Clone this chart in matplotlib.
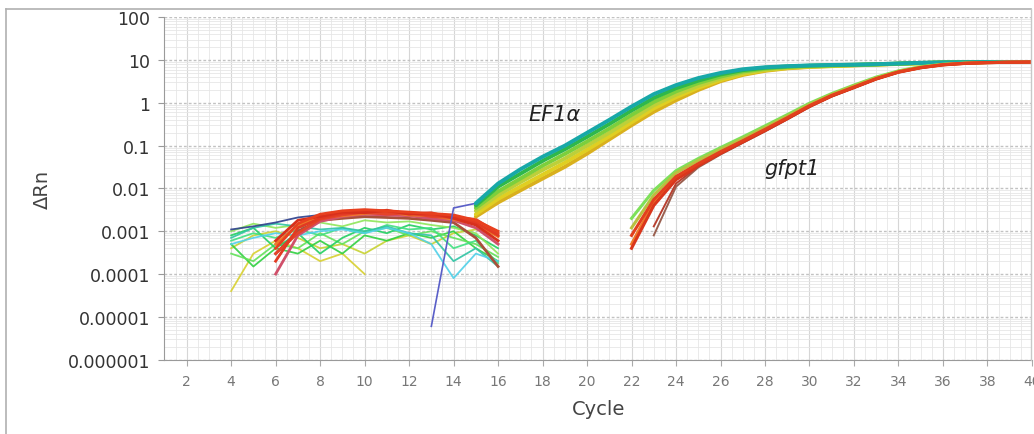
import numpy as np
import matplotlib
matplotlib.use("Agg")
import matplotlib.pyplot as plt
from matplotlib.ticker import FixedLocator, NullFormatter
from matplotlib.lines import Line2D

nan = np.nan

# cycle axes for each group of traces
cycles_base = list(range(4, 17))    # 4..16
cycles_red = list(range(6, 17))     # 6..16
cycles_ef1a = list(range(15, 41))   # 15..40
cycles_gfpt1 = list(range(22, 41))  # 22..40
cycles_gfpt1_late = list(range(23, 41))
cycles_spike = [13, 14, 15]

y_ticks = [1e-6, 1e-5, 1e-4, 1e-3, 1e-2, 1e-1, 1, 10, 100]
y_tick_labels = ["0.000001", "0.00001", "0.0001", "0.001", "0.01", "0.1", "1", "10", "100"]
x_ticks = list(range(2, 41, 2))

# noisy baseline traces, cycles 4..16
base_green1 = [0.0005, 0.00015, 0.0004, 0.0003, 0.0006, 0.0003, 0.0008, 0.0006, 0.0009, 0.0007, 0.0010, 0.0004, 0.0002]
base_green2 = [0.0003, 0.0002, 0.0005, 0.0004, 0.0009, 0.0005, 0.0010, 0.0012, 0.0008, 0.0010, 0.0007, 0.0005, 0.00025]
base_green3 = [0.0008, 0.0012, 0.0004, 0.0009, 0.0003, 0.0007, 0.0012, 0.0009, 0.0014, 0.0011, 0.0013, 0.0008, 0.0004]
base_lime = [0.0010, 0.0015, 0.0012, 0.0014, 0.0016, 0.0013, 0.0018, 0.0016, 0.0017, 0.0014, 0.0012, 0.0009, 0.0003]
base_spring = [0.0006, 0.0009, 0.0007, 0.0011, 0.0008, 0.0012, 0.0009, 0.0014, 0.0011, 0.0012, 0.0004, 0.0006, 0.00018]
base_yellow1 = [0.00004, 0.0003, 0.0006, 0.0004, 0.0002, 0.0003, 0.0001, nan, nan, nan, nan, nan, nan]
base_yellow2 = [0.0004, 0.0008, 0.0010, 0.0007, 0.0004, 0.0005, 0.0003, 0.0006, 0.0008, 0.0005, 0.0009, 0.0011, 0.0008]
base_teal = [0.0007, 0.0012, 0.0015, 0.0013, 0.0011, 0.0012, 0.0010, 0.0013, 0.0009, 0.0008, 0.0002, 0.0004, 0.00015]
base_cyan = [0.0005, 0.0007, 0.0009, 0.0008, 0.0010, 0.0011, 0.0009, 0.0012, 0.0009, 0.0005, 0.00008, 0.0003, 0.0002]
base_navy = [0.0011, 0.0013, 0.0016, 0.0021, 0.0024, nan, nan, nan, nan, nan, nan, nan, nan]

# red baseline traces, cycles 6..16
base_red1 = [0.0004, 0.0015, 0.0025, 0.0030, 0.0032, 0.0030, 0.0028, 0.0026, 0.0024, 0.0018, 0.0010]
base_red2 = [0.0002, 0.0012, 0.0020, 0.0026, 0.0030, 0.0029, 0.0026, 0.0024, 0.0022, 0.0016, 0.0008]
base_red3 = [0.0006, 0.0018, 0.0022, 0.0028, 0.0027, 0.0031, 0.0025, 0.0027, 0.0020, 0.0014, 0.0006]
base_red4 = [0.0003, 0.0009, 0.0019, 0.0024, 0.0028, 0.0025, 0.0027, 0.0022, 0.0021, 0.0019, 0.0009]
base_orange = [0.0005, 0.0014, 0.0021, 0.0023, 0.0026, 0.0028, 0.0024, 0.0023, 0.0019, 0.0015, 0.00075]
base_pink = [0.0001, 0.0008, 0.0017, 0.0022, 0.0025, 0.0024, 0.0023, 0.0020, 0.0018, 0.0012, 0.0005]
base_brown = [0.0003, 0.0010, 0.0018, 0.0020, 0.0022, 0.0021, 0.0020, 0.0018, 0.0016, 0.0007, 0.00015]

spike_purple = [0.000006, 0.0035, 0.0045]

# EF1a amplification, cycles 15..40
ef1a_teal = [0.0045, 0.013, 0.028, 0.055, 0.10, 0.20, 0.40, 0.82, 1.60, 2.60, 3.80, 5.00, 6.10, 6.80, 7.20, 7.50, 7.70, 7.80, 8.00, 8.30, 8.60, 8.80, 8.90, 9.00, 9.00, 9.00]
ef1a_green = [0.0040, 0.011, 0.022, 0.044, 0.082, 0.16, 0.32, 0.66, 1.30, 2.20, 3.30, 4.60, 5.80, 6.60, 7.10, 7.40, 7.60, 7.80, 8.00, 8.30, 8.60, 8.80, 8.90, 9.00, 9.00, 9.00]
ef1a_lime = [0.0035, 0.0085, 0.017, 0.034, 0.064, 0.125, 0.25, 0.52, 1.05, 1.85, 2.90, 4.10, 5.40, 6.30, 6.90, 7.30, 7.50, 7.70, 7.90, 8.20, 8.50, 8.80, 8.90, 9.00, 9.00, 9.00]
ef1a_olive = [0.0030, 0.0070, 0.014, 0.027, 0.050, 0.10, 0.20, 0.42, 0.88, 1.55, 2.50, 3.70, 5.00, 6.00, 6.70, 7.10, 7.40, 7.60, 7.90, 8.20, 8.50, 8.70, 8.90, 9.00, 9.00, 9.00]
ef1a_yellow = [0.0025, 0.0057, 0.011, 0.021, 0.040, 0.080, 0.165, 0.35, 0.74, 1.35, 2.25, 3.40, 4.70, 5.80, 6.50, 7.00, 7.30, 7.60, 7.90, 8.20, 8.50, 8.70, 8.90, 9.00, 9.00, 9.00]
ef1a_gold = [0.0022, 0.0047, 0.009, 0.017, 0.032, 0.065, 0.14, 0.30, 0.62, 1.15, 2.00, 3.20, 4.50, 5.60, 6.40, 6.90, 7.20, 7.50, 7.80, 8.10, 8.40, 8.70, 8.90, 9.00, 9.00, 9.00]

# gfpt1 amplification, cycles 22..40 (late ones 23..40)
gfpt1_green = [0.002, 0.009, 0.026, 0.05, 0.09, 0.16, 0.29, 0.53, 0.98, 1.65, 2.6, 4.0, 5.6, 7.0, 8.0, 8.5, 8.8, 8.9, 9.0]
gfpt1_olive = [0.0012, 0.007, 0.023, 0.045, 0.082, 0.145, 0.265, 0.49, 0.92, 1.58, 2.5, 3.85, 5.45, 6.85, 7.9, 8.45, 8.75, 8.9, 9.0]
gfpt1_orange = [0.0005, 0.0048, 0.018, 0.037, 0.07, 0.127, 0.235, 0.44, 0.84, 1.47, 2.3, 3.65, 5.25, 6.65, 7.75, 8.4, 8.7, 8.9, 9.0]
gfpt1_red1 = [0.0008, 0.0055, 0.019, 0.038, 0.072, 0.13, 0.24, 0.45, 0.86, 1.5, 2.35, 3.7, 5.3, 6.7, 7.8, 8.4, 8.7, 8.9, 9.0]
gfpt1_red2 = [0.0004, 0.004, 0.016, 0.034, 0.066, 0.122, 0.225, 0.425, 0.82, 1.44, 2.27, 3.6, 5.2, 6.6, 7.7, 8.35, 8.7, 8.9, 9.0]
gfpt1_brown = [0.0008, 0.011, 0.031, 0.062, 0.116, 0.215, 0.41, 0.8, 1.41, 2.23, 3.55, 5.15, 6.55, 7.65, 8.3, 8.65, 8.85, 9.0]
gfpt1_darkred = [0.0013, 0.013, 0.033, 0.064, 0.118, 0.22, 0.415, 0.81, 1.42, 2.25, 3.58, 5.18, 6.58, 7.7, 8.33, 8.68, 8.88, 9.0]

fig = plt.figure(figsize=(10.34, 4.35), dpi=100)
ax = fig.add_axes([0.159, 0.171, 0.839, 0.787])

# background grid
ax.set_yscale("log")
ax.set_xlim(1, 40)
ax.set_ylim(1e-6, 100)
ax.xaxis.set_minor_locator(FixedLocator(np.arange(1, 40.01, 0.5)))
ax.yaxis.set_minor_locator(FixedLocator([m * 10.0 ** e for e in range(-6, 2) for m in range(2, 10)]))
ax.yaxis.set_minor_formatter(NullFormatter())
ax.grid(which="minor", color="#e6e6e6", lw=0.6)
ax.grid(which="major", axis="x", color="#d6d6d6", lw=0.8)
ax.grid(which="major", axis="y", color="#c2c2c2", lw=1.0, ls=(0, (2, 1.5)))
ax.set_axisbelow(True)

base_green_set = [
    (base_yellow1, "#d8d030"), (base_yellow2, "#c8d232"), (base_green1, "#30d040"),
    (base_green2, "#62e25a"), (base_green3, "#22d060"), (base_lime, "#8ee65a"),
    (base_spring, "#40e080"), (base_teal, "#30c4a4"), (base_cyan, "#50d0e8"),
    (base_navy, "#2c3f8c"),
]
for vals, col in base_green_set:
    ax.plot(cycles_base, vals, color=col, lw=1.3, alpha=0.9)

base_red_set = [
    (base_brown, "#a8503a"), (base_pink, "#d0506a"), (base_orange, "#ee7a2a"),
    (base_red4, "#e5442a"), (base_red2, "#e23a22"), (base_red3, "#d8301c"),
    (base_red1, "#e8401f"),
]
for vals, col in base_red_set:
    ax.plot(cycles_red, vals, color=col, lw=2.0)

ax.plot(cycles_spike, spike_purple, color="#5a5fc8", lw=1.2)

ef1a_set = [
    (ef1a_gold, "#d9b01e"), (ef1a_yellow, "#e0cf22"), (ef1a_olive, "#bcd03a"),
    (ef1a_lime, "#7ccf3c"), (ef1a_green, "#2fb84a"), (ef1a_teal, "#18a8a8"),
]
for vals, col in ef1a_set:
    ax.plot(cycles_ef1a, vals, color=col, lw=2.8, solid_capstyle="round")

gfpt1_set = [
    (gfpt1_green, "#7ee05a"), (gfpt1_olive, "#b8c040"), (gfpt1_orange, "#f07a2a"),
]
for vals, col in gfpt1_set:
    ax.plot(cycles_gfpt1, vals, color=col, lw=2.2)
for vals, col in [(gfpt1_brown, "#9a6050"), (gfpt1_darkred, "#b84030")]:
    ax.plot(cycles_gfpt1_late, vals, color=col, lw=1.4)
for vals, col in [(gfpt1_red2, "#d9361c"), (gfpt1_red1, "#e2401e")]:
    ax.plot(cycles_gfpt1, vals, color=col, lw=2.2)

ax.text(17.35, 0.40, "EF1α", style="italic", fontsize=15, color="#222222", va="baseline")
ax.text(27.96, 0.0214, "gfpt1", style="italic", fontsize=15, color="#222222", va="baseline")

ax.set_yticks(y_ticks)
ax.set_yticklabels(y_tick_labels, fontsize=12.5, color="#333333")
ax.set_xticks(x_ticks)
ax.set_xticklabels([str(t) for t in x_ticks], fontsize=10, color="#777777")
ax.tick_params(axis="y", which="major", length=4, color="#999999", pad=6)
ax.tick_params(axis="x", which="major", length=4, color="#aaaaaa", pad=6)
ax.tick_params(which="minor", length=0)

for side in ["top", "right"]:
    ax.spines[side].set_visible(False)
ax.spines["left"].set_color("#9a9a9a")
ax.spines["bottom"].set_color("#9a9a9a")

ax.set_xlabel("Cycle", fontsize=14, color="#444444", labelpad=8)
ax.set_ylabel("ΔRn", fontsize=14, color="#444444", labelpad=12)

# outer frame of the exported chart
fig.add_artist(Line2D([6 / 1034, 6 / 1034], [0, 1 - 10 / 435], color="#b0b0b0", lw=1.2))
fig.add_artist(Line2D([6 / 1034, 1031 / 1034], [1 - 10 / 435, 1 - 10 / 435], color="#b0b0b0", lw=1.2))
fig.add_artist(Line2D([1031 / 1034, 1031 / 1034], [0.171, 1 - 10 / 435], color="#c8c8c8", lw=1.0))

fig.savefig("out.png", dpi=100)
